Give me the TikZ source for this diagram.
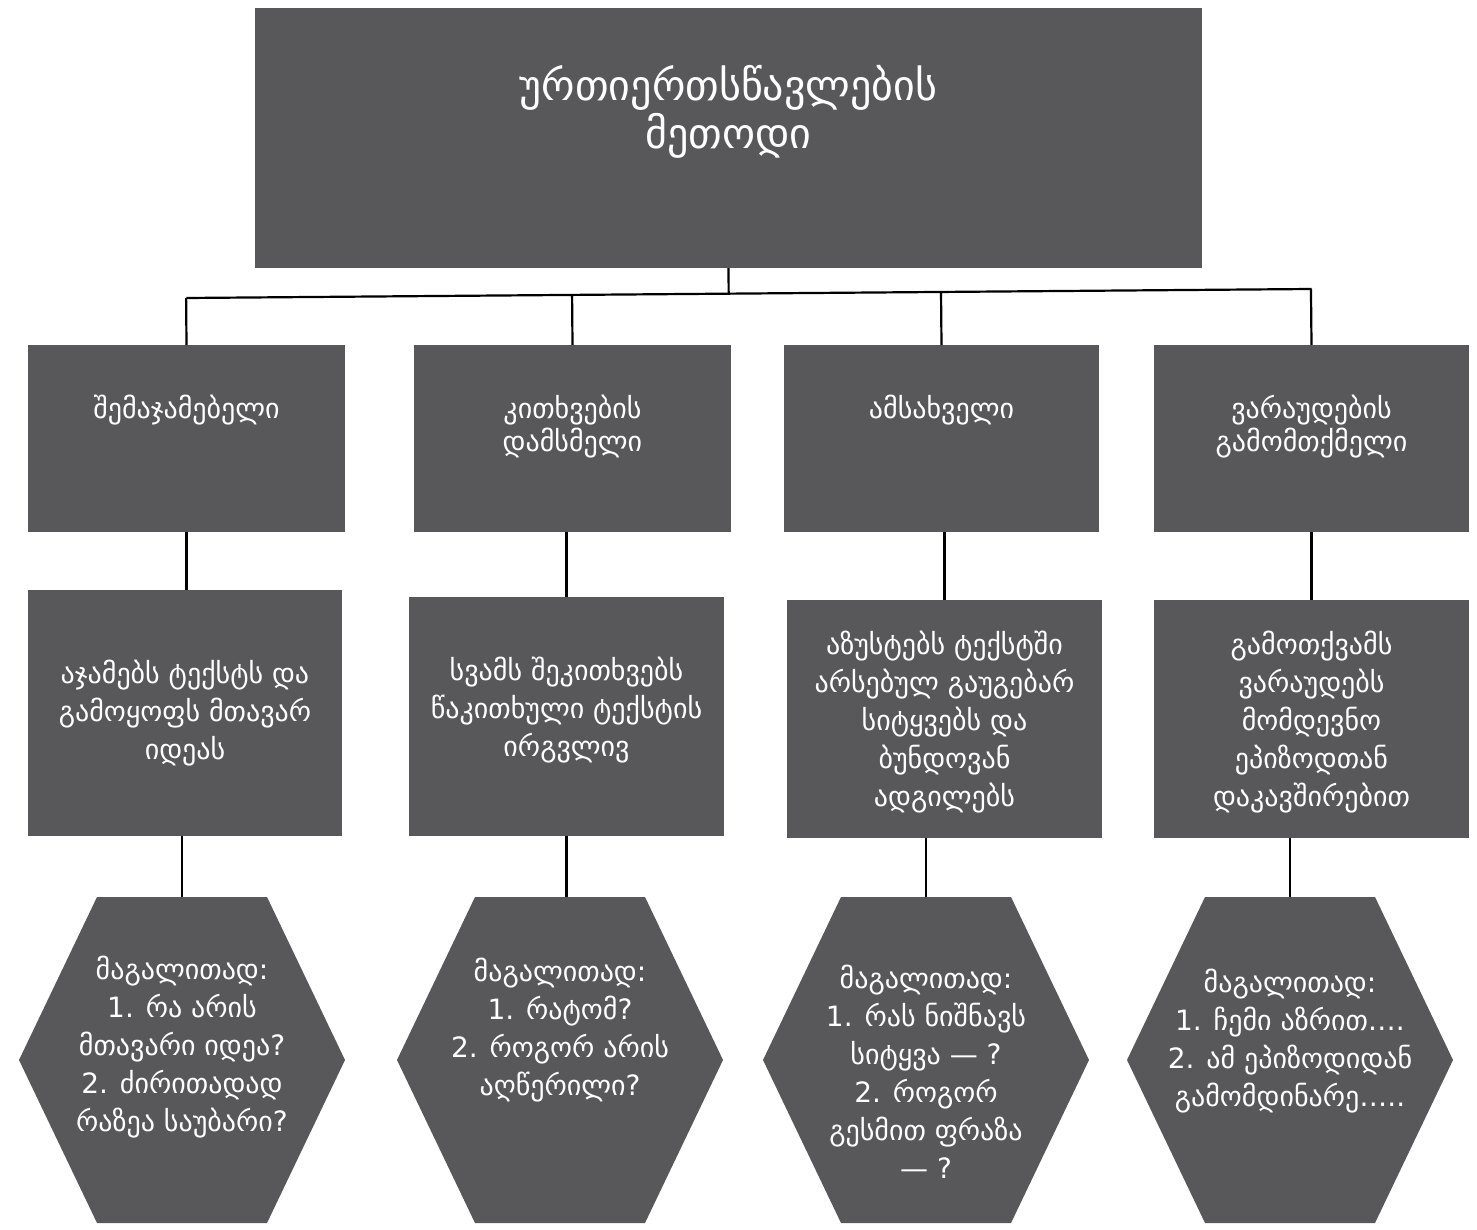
\documentclass[tikz,border=0pt]{standalone}
\usepackage{fontspec}
\setmainfont{DejaVu Sans}
\usetikzlibrary{calc}
\definecolor{boxgray}{HTML}{58585A}
\tikzset{
  box/.style={fill=boxgray, draw=none, inner sep=0pt},
  lbl/.style={text=white, align=center, inner sep=0pt, font=\fontsize{28}{38}\selectfont},
  lblone/.style={text=white, align=center, inner sep=0pt, font=\fontsize{28}{33}\selectfont},
  ttl/.style={text=white, align=center, inner sep=0pt, font=\fontsize{42}{48}\selectfont},
  conn/.style={draw=black, line width=2.2pt},
}
\begin{document}
\begin{tikzpicture}[x=1pt,y=-1pt]
\useasboundingbox[fill=white] (0,0) rectangle (1477,1230);
% top box
\node[box, minimum width=947pt, minimum height=260pt] (t) at (728.5,138) {};
\node[ttl] (tt) at (728.5,112) {ურთიერთსწავლების\\მეთოდი};
% row 1
\node[box, minimum width=317pt, minimum height=187pt] (b1) at (186.5,438.5) {};
\node[box, minimum width=317pt, minimum height=187pt] (b2) at (572.5,438.5) {};
\node[box, minimum width=315pt, minimum height=187pt] (b3) at (941.5,438.5) {};
\node[box, minimum width=315pt, minimum height=187pt] (b4) at (1311.5,438.5) {};
\node[lblone, anchor=north] (b1t) at ($(b1.north)+(0,50)$) {შემაჯამებელი};
\node[lblone, anchor=north] (b2t) at ($(b2.north)+(0,50)$) {კითხვების\\დამსმელი};
\node[lblone, anchor=north] (b3t) at ($(b3.north)+(0,50)$) {ამსახველი};
\node[lblone, anchor=north] (b4t) at ($(b4.north)+(0,50)$) {ვარაუდების\\გამომთქმელი};
% row 2
\node[box, minimum width=314pt, minimum height=246pt] (c1) at (185,713) {};
\node[box, minimum width=315pt, minimum height=239pt] (c2) at (566.5,716.5) {};
\node[box, minimum width=315pt, minimum height=238pt] (c3) at (944.5,719) {};
\node[box, minimum width=315pt, minimum height=238pt] (c4) at (1311.5,719) {};
\node[lbl] (c1t) at (185,713) {აჯამებს ტექსტს და\\გამოყოფს მთავარ\\იდეას};
\node[lbl] (c2t) at (566.5,710) {სვამს შეკითხვებს\\წაკითხული ტექსტის\\ირგვლივ};
\node[lbl] (c3t) at (944.5,722) {აზუსტებს ტექსტში\\არსებულ გაუგებარ\\სიტყვებს და\\ბუნდოვან\\ადგილებს};
\node[lbl] (c4t) at (1311.5,722) {გამოთქვამს\\ვარაუდებს\\მომდევნო\\ეპიზოდთან\\დაკავშირებით};
% hexagons
\foreach \n/\cx in {1/182,2/560,3/926,4/1290}{
  \fill[boxgray] (\cx-85,897) -- (\cx+85,897) -- (\cx+163,1060) -- (\cx+85,1223)
     -- (\cx-85,1223) -- (\cx-163,1060) -- cycle;
  \coordinate (h\n) at (\cx,897);
}
\node[lbl] (h1t) at (182,1047) {მაგალითად:\\1. რა არის\\მთავარი იდეა?\\2. ძირითადად\\რაზეა საუბარი?};
\node[lbl] (h2t) at (560,1030) {მაგალითად:\\1. რატომ?\\2. როგორ არის\\აღწერილი?};
\node[lbl] (h3t) at (926,1072) {მაგალითად:\\1. რას ნიშნავს\\სიტყვა — ?\\2. როგორ\\გესმით ფრაზა\\— ?};
\node[lbl] (h4t) at (1290,1041) {მაგალითად:\\1. ჩემი აზრით….\\2. ამ ეპიზოდიდან\\გამომდინარე…..};
% connectors
\coordinate (busL) at (186.5,298);
\coordinate (busR) at (1311.5,289);
\draw[conn] (busL) -- (busR);
\draw[conn] (t.south) -- ($(busL)!(t.south)!(busR)$);
\foreach \b in {b1,b2,b3,b4}{
  \draw[conn] ($(busL)!(\b.north)!(busR)$) -- (\b.north);
}
\draw[conn] (b1.south) -- (b1.south |- c1.north);
\draw[conn] (c2.north |- b2.south) -- (c2.north);
\draw[conn] (c3.north |- b3.south) -- (c3.north);
\draw[conn] (b4.south) -- (c4.north);
\draw[conn] (h1 |- c1.south) -- (h1);
\draw[conn] (c2.south) -- (c2.south |- h2);
\draw[conn] (h3 |- c3.south) -- (h3);
\draw[conn] (h4 |- c4.south) -- (h4);
\end{tikzpicture}
\end{document}
